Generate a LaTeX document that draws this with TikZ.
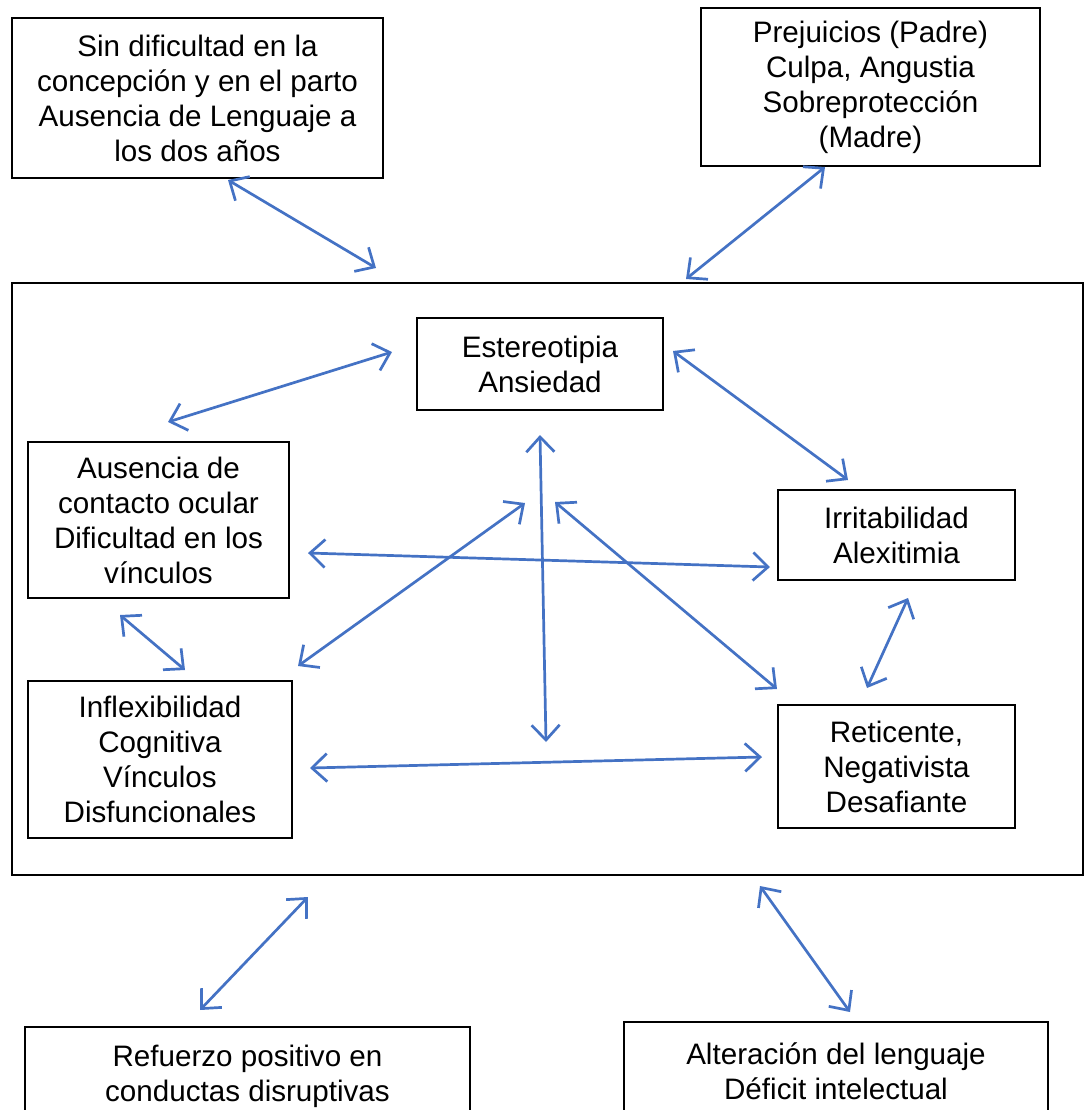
\documentclass[tikz,border=0pt]{standalone}
\usepackage{fontspec}
\setmainfont{Liberation Sans}
\usepackage{tikz}
\usetikzlibrary{arrows.meta, positioning, calc}
\definecolor{linkBlue}{RGB}{68,114,196}
\tikzset{
    boxNode/.style={
        rectangle,
        draw=black,
        fill=white,
        line width=1pt,
        align=center,
        inner sep=0pt,
        font=\fontsize{14.8}{17.5}\selectfont
    },
    frameNode/.style={
        rectangle,
        draw=black,
        line width=1pt,
        inner sep=0pt
    },
    linkArrow/.style={
        {Straight Barb[length=7.5pt, width=14pt, line width=1.35pt]}-{Straight Barb[length=7.5pt, width=14pt, line width=1.35pt]},
        draw=linkBlue,
        line width=1.35pt
    }
}
\begin{document}
\begin{tikzpicture}[x=0.5pt, y=-0.5pt]

        \useasboundingbox (0,0) rectangle (1087,1110);

        % Big frame
        \node[frameNode, minimum width=535.5pt, minimum height=296pt] (frame) at (547.5, 579) {};

        % Outer boxes
        \node[boxNode, minimum width=185.5pt, minimum height=80pt] (origin) at (197.5, 98)
            {Sin dificultad en la\\concepción y en el parto\\Ausencia de Lenguaje a\\los dos años};
        \node[boxNode, minimum width=169.5pt, minimum height=79pt] (parents) at (870.5, 87)
            {Prejuicios (Padre)\\Culpa, Angustia\\Sobreprotección\\(Madre)};
        \node[boxNode, minimum width=222.5pt, minimum height=49pt] (reinforce) at (247.5, 1076)
            {Refuerzo positivo en\\conductas disruptivas};
        \node[boxNode, minimum width=212pt, minimum height=49pt] (language) at (836, 1071)
            {Alteración del lenguaje\\Déficit intelectual};

        % Inner boxes
        \node[boxNode, minimum width=123pt, minimum height=46pt] (stereo) at (540, 364)
            {Estereotipia\\Ansiedad};
        \node[boxNode, minimum width=130.5pt, minimum height=78pt] (contact) at (158.5, 520)
            {Ausencia de\\contacto ocular\\Dificultad en los\\vínculos};
        \node[boxNode, minimum width=118.5pt, minimum height=45pt] (irrit) at (896.5, 535)
            {Irritabilidad\\Alexitimia};
        \node[boxNode, minimum width=132pt, minimum height=78.5pt] (inflex) at (160, 759.5)
            {Inflexibilidad\\Cognitiva\\Vínculos\\Disfuncionales};
        \node[boxNode, minimum width=118.5pt, minimum height=61.5pt] (retic) at (896.5, 766.5)
            {Reticente,\\Negativista\\Desafiante};

        % Arrow end points
        \coordinate (a1) at (228, 180);  \coordinate (b1) at (376, 268);
        \coordinate (a2) at (825, 167);  \coordinate (b2) at (686, 279);
        \coordinate (a3) at (168, 422);  \coordinate (b3) at (392, 352);
        \coordinate (a4) at (673, 351);  \coordinate (b4) at (848, 480);
        \coordinate (a5) at (540, 435);  \coordinate (b5) at (546, 742);
        \coordinate (a6) at (308, 553);  \coordinate (b6) at (770, 567);
        \coordinate (a7) at (525, 503);  \coordinate (b7) at (298, 666);
        \coordinate (a8) at (555, 502);  \coordinate (b8) at (777, 689);
        \coordinate (a9) at (120, 615);  \coordinate (b9) at (185, 670);
        \coordinate (a10) at (908, 598); \coordinate (b10) at (867, 688);
        \coordinate (a11) at (310, 768); \coordinate (b11) at (762, 757);
        \coordinate (a12) at (308, 897); \coordinate (b12) at (200, 1010);
        \coordinate (a13) at (760, 886); \coordinate (b13) at (850, 1012);

        % Links
        \foreach \i in {1,...,13} {
            \draw[linkArrow] (a\i) -- (b\i);
        }

\end{tikzpicture}
\end{document}
